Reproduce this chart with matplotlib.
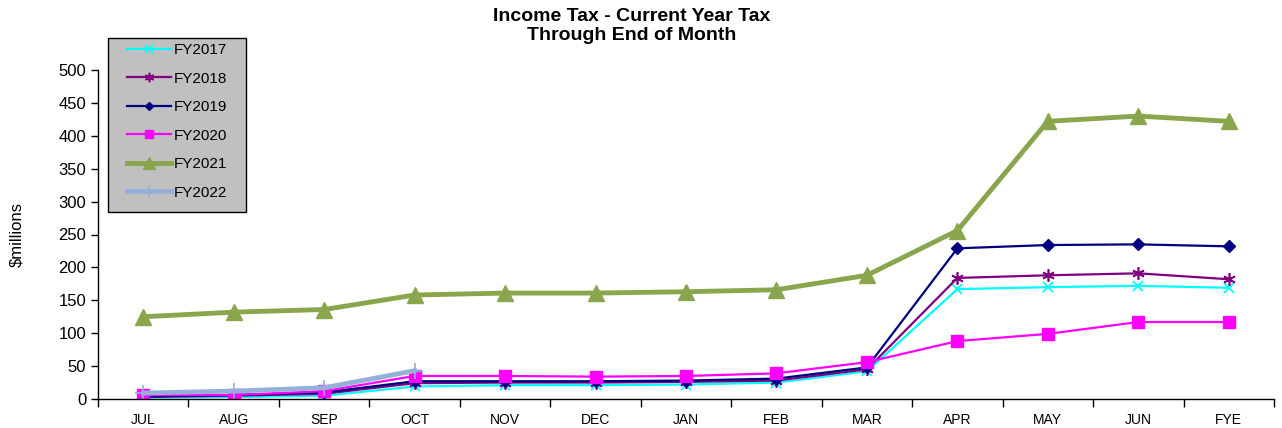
import matplotlib.pyplot as plt
import matplotlib.patches as mpatches
import numpy as np

plt.rcParams['font.family'] = ['Liberation Sans', 'DejaVu Sans']

# Data
months = ['JUL', 'AUG', 'SEP', 'OCT', 'NOV', 'DEC', 'JAN', 'FEB', 'MAR', 'APR', 'MAY', 'JUN', 'FYE']
fy2017 = [2, 3, 5, 19, 21, 21, 22, 25, 42, 167, 170, 172, 169]
fy2018 = [3, 5, 8, 24, 25, 25, 26, 28, 45, 184, 188, 191, 182]
fy2019 = [4, 6, 10, 27, 27, 27, 28, 31, 48, 229, 234, 235, 232]
fy2020 = [6, 6, 12, 35, 35, 34, 35, 39, 56, 88, 99, 117, 117]
fy2021 = [125, 132, 136, 158, 161, 161, 163, 166, 188, 256, 422, 430, 422]
fy2022 = [9, 12, 17, 43]

W, H = 1282, 428
fig = plt.figure(figsize=(W / 100, H / 100), dpi=100)
fig.patch.set_facecolor('white')
ax = fig.add_axes([98 / W, 1 - 399 / H, (1274 - 98) / W, (399 - 70) / H])

x = np.arange(len(months))
ax.plot(x, fy2017, color='#00ffff', marker='x', markersize=7, mew=1.3, lw=1.6, label='FY2017')
ax.plot(x, fy2018, color='#800080', marker=(6, 2, 0), markersize=9, mew=1.2, lw=1.6, label='FY2018')
ax.plot(x, fy2019, color='#000080', marker='D', markersize=6, lw=1.6, label='FY2019')
ax.plot(x, fy2020, color='#ff00ff', marker='s', markersize=8, lw=1.6, label='FY2020')
ax.plot(x, fy2021, color='#8aa64d', marker='^', markersize=11, lw=3.5, label='FY2021')
ax.plot(x[:len(fy2022)], fy2022, color='#95b0d8', marker='+', markersize=11, mew=1.2, lw=3.5, label='FY2022')

ax.set_xlim(-0.5, len(months) - 0.5)
ax.set_ylim(0, 500)
ax.set_yticks(np.arange(0, 501, 50))
ax.set_xticks(x)
ax.set_xticklabels(months, fontsize=10)
ax.set_xticks(np.arange(-0.5, len(months), 1), minor=True)
ax.tick_params(axis='x', which='major', length=0, pad=10)
ax.tick_params(axis='x', which='minor', length=6, direction='out', width=1)
ax.tick_params(axis='y', labelsize=12, length=5, direction='out', width=1)
for s in ['top', 'right']:
    ax.spines[s].set_visible(False)
ax.spines['left'].set_linewidth(1)
ax.spines['bottom'].set_linewidth(1)
ax.set_ylabel(r'\$millions', fontsize=12)
ax.yaxis.set_label_coords((24 - 98) / 1176, 0.5)

fig.text(632 / W, 1 - 8 / H, 'Income Tax - Current Year Tax\nThrough End of Month',
         fontsize=14, fontweight='bold', ha='center', va='top', linespacing=1.12)

# legend box (grey panel with black border)
box = mpatches.Rectangle((108 / W, 1 - 212 / H), (246 - 108) / W, (212 - 38) / H,
                         transform=fig.transFigure, facecolor='#c0c0c0',
                         edgecolor='black', lw=1, zorder=5)
fig.patches.append(box)
leg = fig.legend(loc='upper left', bbox_to_anchor=(127 / W, 1 - 43 / H),
                 fontsize=11, frameon=False, labelspacing=0.95, handlelength=2.9,
                 borderpad=0, handletextpad=0.15, borderaxespad=0, markerscale=0.75)
leg.set_zorder(6)

fig.savefig('out.png', dpi=100, facecolor='white')
